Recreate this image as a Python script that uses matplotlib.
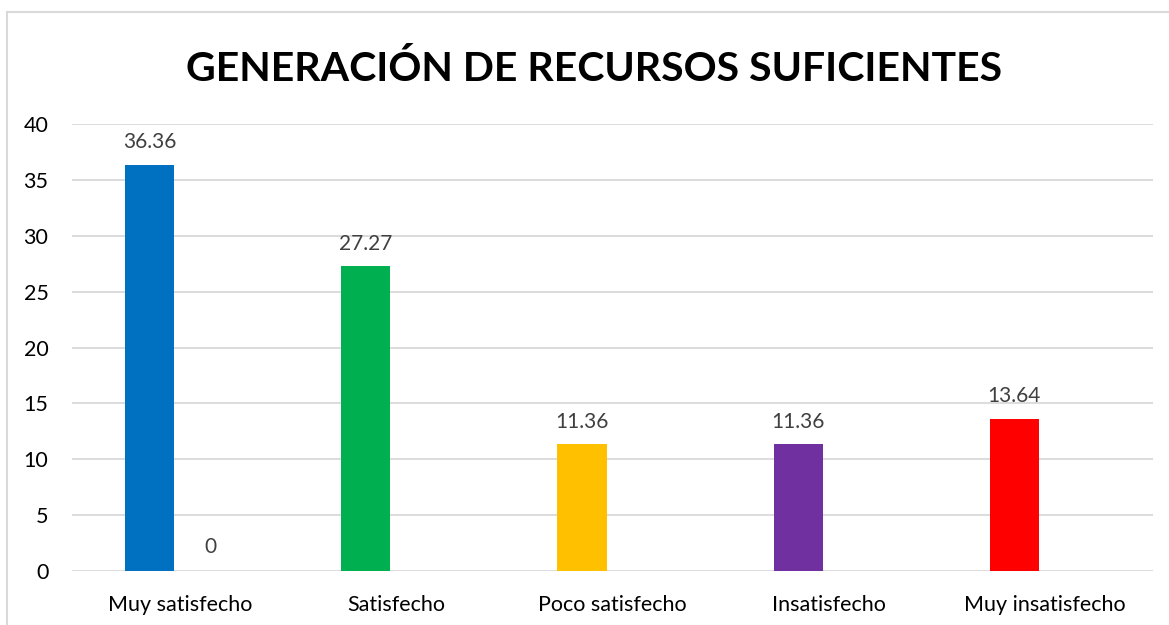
import matplotlib
matplotlib.use("Agg")
import matplotlib.pyplot as plt
from matplotlib.lines import Line2D
import numpy as np

# Data
categories = ["Muy satisfecho", "Satisfecho", "Poco satisfecho", "Insatisfecho", "Muy insatisfecho"]
serie1 = [36.36, 27.27, 11.36, 11.36, 13.64]
serie2 = [0, None, None, None, None]
colors = ["#0070C0", "#00B050", "#FFC000", "#7030A0", "#FF0000"]
yticks = [0, 5, 10, 15, 20, 25, 30, 35, 40]

plt.rcParams['font.family'] = ['Lato', 'DejaVu Sans']

W, H = 1169, 625
fig = plt.figure(figsize=(W / 100, H / 100), dpi=100)
ax = fig.add_axes([72 / W, 1 - 571 / H, (1153 - 72) / W, (571 - 124) / H])

x = np.arange(len(categories))
bw = 0.227
off = 0.141

ax.bar(x - off, serie1, width=bw, color=colors, zorder=3)
for xi, v in zip(x, serie1):
    ax.annotate(f"{v:.2f}", (xi - off, v), xytext=(0, 16), textcoords="offset points",
                ha="center", va="center", fontsize=15, color="#404040")
for xi, v in zip(x, serie2):
    if v is None:
        continue
    ax.bar(xi + off, v, width=bw, color="#A5A5A5", zorder=3)
    ax.annotate(f"{v:g}", (xi + off, v), xytext=(0, 17), textcoords="offset points",
                ha="center", va="center", fontsize=15, color="#404040")

ax.set_xlim(-0.5, len(categories) - 0.5)
ax.set_ylim(0, 40)
ax.set_yticks(yticks)
ax.set_xticks(x)
ax.set_xticklabels(categories, fontsize=15.5)
ax.tick_params(axis="y", labelsize=15.5, length=0, pad=17)
ax.tick_params(axis="x", length=0, pad=17)
ax.grid(axis="y", color="#D9D9D9", linewidth=1.3, zorder=0)
for s in ax.spines.values():
    s.set_visible(False)

fig.text(594 / W, 1 - 69 / H, "GENERACIÓN DE RECURSOS SUFICIENTES",
         ha="center", va="center", fontsize=29.5, fontweight="bold", color="black")

# chart frame
fig.add_artist(Line2D([7 / W, 1], [1 - 11.5 / H] * 2, color="#D9D9D9", linewidth=1.5))
fig.add_artist(Line2D([7 / W] * 2, [1 - 11.5 / H, 0], color="#D9D9D9", linewidth=1.5))

fig.savefig("out.png", dpi=100)
